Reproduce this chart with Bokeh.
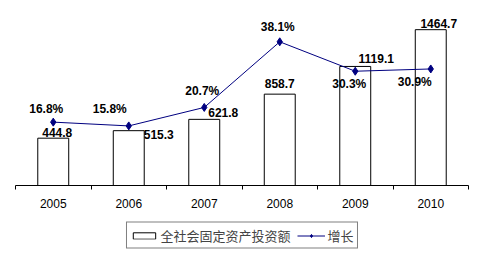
from bokeh.plotting import figure
from bokeh.layouts import column
from bokeh.models import Range1d, FixedTicker, ColumnDataSource, Legend, LegendItem
from bokeh.core.properties import value
from bokeh.embed import file_html
from bokeh.resources import INLINE

years = ["2005", "2006", "2007", "2008", "2009", "2010"]
investment = [444.8, 515.3, 621.8, 858.7, 1119.1, 1464.7]
growth = [16.8, 15.8, 20.7, 38.1, 30.3, 30.9]
series_names = ["全社会固定资产投资额", "增长"]

# label placement (screen px) kept apart from the data
bar_label_dx = [4, 30, 19, 0, 21, 8]
bar_label_dy = [-1, 8, -2, -6, -3, -2]
pct_label_dx = [-7, -19, -2, -2, -6, -16]
pct_label_dy = [-13, -17, -16, -15, 13, 13]

BAR_STYLE = dict(fill_color="white", line_color="black", line_width=1)
LINE_STYLE = dict(line_color="#000080", line_width=1)
MARK_STYLE = dict(marker="diamond", size=8, fill_color="#000080", line_color="#000080")

x = list(range(len(years)))
src = ColumnDataSource(dict(
    x=x, inv=investment, gr=growth,
    inv_txt=[f"{v:.1f}" for v in investment],
    gr_txt=[f"{g:.1f}%" for g in growth],
    bdx=bar_label_dx, bdy=bar_label_dy, pdx=pct_label_dx, pdy=pct_label_dy,
))

p = figure(width=486, height=215, output_backend="svg", toolbar_location=None,
           x_range=Range1d(-0.5, 5.5), y_range=Range1d(0, 1645),
           y_axis_location=None, min_border_left=15, min_border_right=18,
           min_border_top=10, min_border_bottom=30)
p.extra_y_ranges = {"pct": Range1d(0, 46.4)}
p.outline_line_color = None
p.grid.visible = False

p.vbar(x="x", top="inv", width=0.41, bottom=0, source=src, **BAR_STYLE)
p.line(x="x", y="gr", source=src, y_range_name="pct", **LINE_STYLE)
p.scatter(x="x", y="gr", source=src, y_range_name="pct", **MARK_STYLE)

p.text(x="x", y="inv", text="inv_txt", source=src, x_offset="bdx", y_offset="bdy",
       text_align="center", text_baseline="bottom", text_font=value("Liberation Sans"),
       text_font_style="bold", text_font_size="12px", text_color="black")
p.text(x="x", y="gr", text="gr_txt", source=src, y_range_name="pct",
       x_offset="pdx", y_offset="pdy", text_align="center", text_baseline="middle",
       text_font=value("Liberation Sans"), text_font_style="bold",
       text_font_size="12px", text_color="black")

ax = p.xaxis[0]
ax.ticker = FixedTicker(ticks=x, minor_ticks=[i - 0.5 for i in range(len(years) + 1)])
ax.major_label_overrides = {i: years[i] for i in x}
ax.major_tick_line_color = None
ax.minor_tick_out = 4
ax.minor_tick_in = 0
ax.minor_tick_line_color = "black"
ax.axis_line_color = "black"
ax.major_label_standoff = 7
ax.major_label_text_font = "Liberation Sans"
ax.major_label_text_font_size = "12px"
ax.major_label_text_color = "black"

# legend strip: a small figure whose legend-only renderers draw nothing (NaN data)
nan = float("nan")
q = figure(width=486, height=40, output_backend="svg", toolbar_location=None,
           x_range=Range1d(0, 1), y_range=Range1d(0, 1),
           x_axis_location=None, y_axis_location=None,
           min_border_left=15, min_border_right=18, min_border_top=0, min_border_bottom=0)
q.outline_line_color = None
q.grid.visible = False
lb = q.vbar(x=[nan], top=[nan], width=0.1, **BAR_STYLE)
ll = q.line(x=[nan, nan], y=[nan, nan], **LINE_STYLE)
lm = q.scatter(x=[nan], y=[nan], **MARK_STYLE)

legend = Legend(items=[LegendItem(label=series_names[0], renderers=[lb]),
                       LegendItem(label=series_names[1], renderers=[ll, lm])],
                orientation="horizontal", location="center",
                border_line_color="black", border_line_width=1,
                label_text_font="Noto Sans CJK SC", label_text_font_size="13px",
                glyph_width=28, glyph_height=8, label_standoff=3, spacing=6,
                padding=3, margin=0, label_height=14, background_fill_alpha=1)
q.add_layout(legend, "center")

layout = column(p, q, spacing=0)
open("out.html", "w").write(file_html(layout, INLINE))
